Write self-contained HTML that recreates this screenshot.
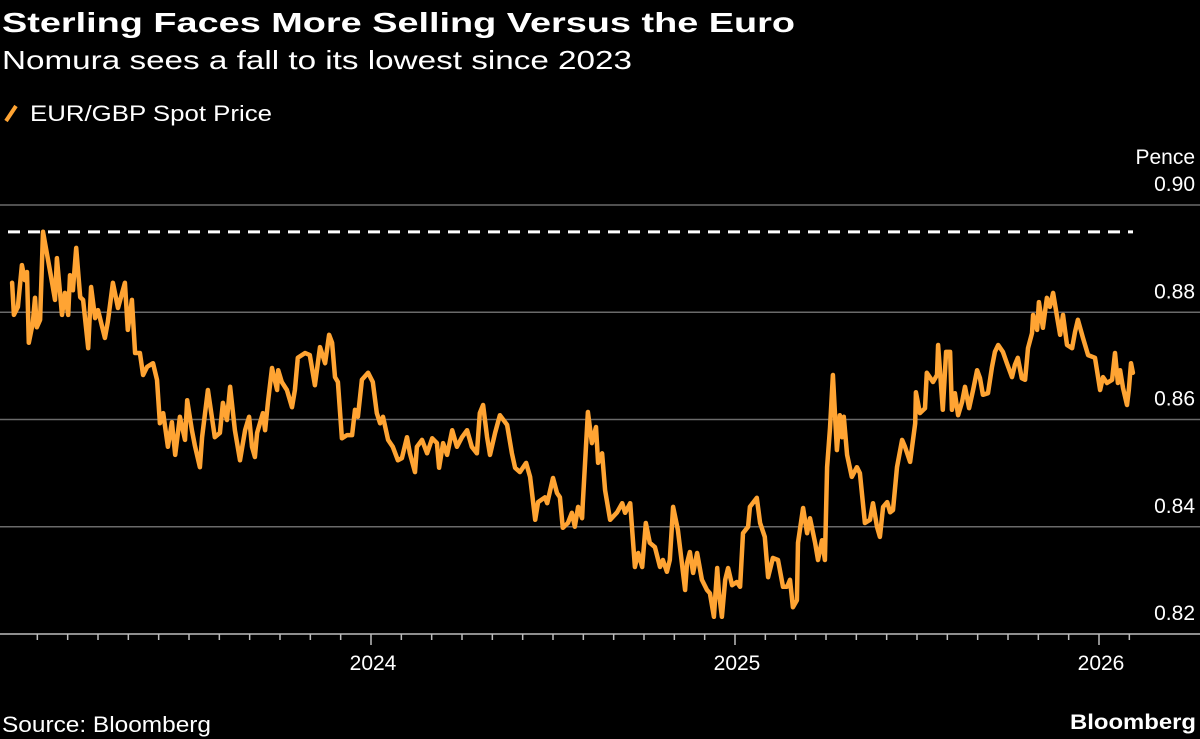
<!DOCTYPE html>
<html><head><meta charset="utf-8"><style>
html,body{margin:0;padding:0;background:#000;width:1200px;height:739px;overflow:hidden}
svg{display:block}
text{font-family:"Liberation Sans",sans-serif}
</style></head><body>
<svg id="chart" width="1200" height="739" viewBox="0 0 1200 739">
<rect width="1200" height="739" fill="#000"/>
<text x="2" y="32" font-size="28" font-weight="bold" fill="#fff" textLength="793" lengthAdjust="spacingAndGlyphs">Sterling Faces More Selling Versus the Euro</text>
<text x="2" y="69" font-size="26" fill="#fff" textLength="630" lengthAdjust="spacingAndGlyphs">Nomura sees a fall to its lowest since 2023</text>
<g>
<line x1="6" y1="121" x2="16" y2="106" stroke="#ffa433" stroke-width="4"/>
<text x="30" y="121" font-size="22" fill="#fff" textLength="242" lengthAdjust="spacingAndGlyphs">EUR/GBP Spot Price</text>
</g>
<text x="1195" y="164" font-size="21" fill="#fff" text-anchor="end">Pence</text>
<g id="grid"></g><g id="xaxis"></g><g id="series"></g>
<text x="2" y="732" font-size="22" fill="#fff" textLength="209" lengthAdjust="spacingAndGlyphs">Source: Bloomberg</text>
<text x="1196" y="729" font-size="21" font-weight="bold" fill="#fff" text-anchor="end" textLength="126" lengthAdjust="spacingAndGlyphs">Bloomberg</text>
</svg>
<script>
const yTicks=[0.82,0.84,0.86,0.88,0.90];
const yTickLabels=["0.82","0.84","0.86","0.88","0.90"];
const xYears=[2024,2025,2026];
const xYearLabels=["2024","2025","2026"];
const refLevel=0.895;
const dates=[2023.014,2023.019,2023.030,2023.041,2023.049,2023.055,2023.060,2023.071,2023.077,2023.082,2023.091,2023.099,2023.113,2023.124,2023.132,2023.137,2023.151,2023.159,2023.168,2023.173,2023.181,2023.190,2023.201,2023.209,2023.223,2023.231,2023.242,2023.250,2023.269,2023.277,2023.291,2023.305,2023.324,2023.332,2023.343,2023.352,2023.365,2023.374,2023.385,2023.401,2023.412,2023.420,2023.429,2023.442,2023.453,2023.462,2023.475,2023.489,2023.495,2023.508,2023.516,2023.530,2023.536,2023.552,2023.571,2023.585,2023.593,2023.604,2023.613,2023.626,2023.640,2023.654,2023.665,2023.673,2023.681,2023.687,2023.703,2023.709,2023.717,2023.728,2023.742,2023.745,2023.755,2023.769,2023.783,2023.791,2023.799,2023.819,2023.832,2023.846,2023.860,2023.874,2023.885,2023.893,2023.901,2023.909,2023.920,2023.934,2023.948,2023.956,2023.964,2023.975,2023.992,2024.005,2024.016,2024.025,2024.033,2024.047,2024.060,2024.074,2024.085,2024.099,2024.107,2024.121,2024.126,2024.140,2024.154,2024.168,2024.181,2024.187,2024.198,2024.209,2024.223,2024.236,2024.250,2024.264,2024.277,2024.291,2024.299,2024.308,2024.319,2024.327,2024.341,2024.354,2024.374,2024.387,2024.396,2024.409,2024.426,2024.437,2024.451,2024.459,2024.478,2024.484,2024.500,2024.511,2024.519,2024.527,2024.541,2024.552,2024.560,2024.569,2024.580,2024.582,2024.596,2024.607,2024.618,2024.624,2024.635,2024.643,2024.657,2024.676,2024.690,2024.698,2024.712,2024.725,2024.734,2024.745,2024.755,2024.766,2024.780,2024.794,2024.802,2024.813,2024.821,2024.830,2024.843,2024.863,2024.868,2024.876,2024.885,2024.896,2024.909,2024.923,2024.931,2024.942,2024.951,2024.956,2024.964,2024.973,2024.981,2024.992,2025.005,2025.014,2025.022,2025.036,2025.041,2025.060,2025.069,2025.082,2025.091,2025.104,2025.118,2025.132,2025.143,2025.151,2025.159,2025.170,2025.173,2025.187,2025.198,2025.206,2025.220,2025.228,2025.239,2025.247,2025.253,2025.261,2025.269,2025.280,2025.288,2025.294,2025.299,2025.308,2025.321,2025.335,2025.343,2025.357,2025.371,2025.379,2025.390,2025.398,2025.407,2025.418,2025.426,2025.434,2025.445,2025.459,2025.467,2025.481,2025.495,2025.497,2025.508,2025.522,2025.527,2025.544,2025.555,2025.558,2025.571,2025.580,2025.591,2025.596,2025.604,2025.613,2025.624,2025.632,2025.643,2025.654,2025.665,2025.673,2025.681,2025.695,2025.706,2025.714,2025.723,2025.736,2025.747,2025.761,2025.769,2025.777,2025.788,2025.797,2025.805,2025.816,2025.819,2025.830,2025.835,2025.846,2025.857,2025.865,2025.874,2025.885,2025.893,2025.901,2025.912,2025.926,2025.934,2025.942,2025.956,2025.970,2025.989,2026.003,2026.011,2026.022,2026.036,2026.044,2026.052,2026.058,2026.066,2026.077,2026.082,2026.088,2026.093];
const prices=[0.8855,0.8795,0.8810,0.8888,0.8860,0.8875,0.8743,0.8780,0.8827,0.8772,0.8786,0.8950,0.8897,0.8855,0.8823,0.8901,0.8795,0.8836,0.8795,0.8869,0.8841,0.8920,0.8828,0.8823,0.8733,0.8847,0.8789,0.8804,0.8752,0.8782,0.8855,0.8808,0.8855,0.8767,0.8823,0.8724,0.8724,0.8683,0.8698,0.8705,0.8674,0.8593,0.8612,0.8549,0.8595,0.8534,0.8605,0.8562,0.8636,0.8580,0.8552,0.8511,0.8567,0.8655,0.8567,0.8575,0.8631,0.8599,0.8661,0.8580,0.8524,0.8580,0.8605,0.8549,0.8530,0.8575,0.8612,0.8580,0.8633,0.8696,0.8655,0.8692,0.8670,0.8655,0.8623,0.8655,0.8715,0.8724,0.8720,0.8664,0.8735,0.8705,0.8758,0.8743,0.8679,0.8670,0.8565,0.8571,0.8571,0.8618,0.8605,0.8674,0.8687,0.8670,0.8612,0.8593,0.8605,0.8562,0.8549,0.8524,0.8528,0.8567,0.8537,0.8502,0.8549,0.8562,0.8537,0.8565,0.8556,0.8510,0.8556,0.8534,0.8580,0.8549,0.8567,0.8580,0.8549,0.8537,0.8612,0.8627,0.8567,0.8534,0.8575,0.8608,0.8590,0.8537,0.8510,0.8502,0.8519,0.8493,0.8413,0.8446,0.8455,0.8444,0.8491,0.8463,0.8455,0.8398,0.8407,0.8426,0.8400,0.8437,0.8416,0.8444,0.8614,0.8556,0.8586,0.8519,0.8537,0.8468,0.8413,0.8427,0.8444,0.8426,0.8444,0.8325,0.8351,0.8325,0.8407,0.8370,0.8362,0.8325,0.8338,0.8316,0.8338,0.8437,0.8394,0.8282,0.8332,0.8353,0.8314,0.8351,0.8301,0.8282,0.8276,0.8232,0.8323,0.8276,0.8232,0.8301,0.8323,0.8291,0.8297,0.8288,0.8388,0.8400,0.8437,0.8454,0.8407,0.8381,0.8306,0.8342,0.8338,0.8288,0.8288,0.8301,0.8250,0.8263,0.8370,0.8435,0.8388,0.8416,0.8370,0.8338,0.8375,0.8338,0.8511,0.8584,0.8683,0.8543,0.8608,0.8567,0.8605,0.8534,0.8493,0.8511,0.8500,0.8407,0.8413,0.8444,0.8400,0.8381,0.8437,0.8446,0.8427,0.8431,0.8511,0.8562,0.8549,0.8521,0.8593,0.8651,0.8612,0.8621,0.8687,0.8670,0.8683,0.8739,0.8618,0.8726,0.8726,0.8618,0.8649,0.8608,0.8633,0.8661,0.8621,0.8655,0.8692,0.8677,0.8646,0.8649,0.8698,0.8726,0.8739,0.8726,0.8705,0.8679,0.8702,0.8715,0.8677,0.8674,0.8733,0.8761,0.8795,0.8767,0.8819,0.8771,0.8827,0.8810,0.8836,0.8791,0.8758,0.8795,0.8739,0.8733,0.8763,0.8786,0.8752,0.8720,0.8715,0.8655,0.8679,0.8668,0.8674,0.8724,0.8668,0.8692,0.8659,0.8627,0.8655,0.8705,0.8687];

const NS="http://www.w3.org/2000/svg";
const xScale=t=>371+(t-2024)*364;
const yScale=v=>634-(v-0.82)*5362.5;
function mk(tag,attrs,parent){const e=document.createElementNS(NS,tag);for(const k in attrs)e.setAttribute(k,attrs[k]);parent.appendChild(e);return e;}
const grid=document.getElementById('grid'),xa=document.getElementById('xaxis'),ser=document.getElementById('series');
yTicks.forEach((v,i)=>{
  const y=yScale(v);
  const ln=mk('line',{x1:0,x2:1200,y1:y,y2:y,stroke:i===0?'#bdbdbd':'#6a6a6a','stroke-width':1.5},grid);
  
  
  const tx=mk('text',{x:1195,y:y-14,'font-size':21,fill:'#fff','text-anchor':'end'},grid);
  tx.textContent=yTickLabels[i];
  
  
});
for(let m=1;m<=37;m++){
  const t=2023+m/12;const x=xScale(t);if(x>1195)break;
  const isYear=(m%12===0);
  const tk=mk('line',{x1:x,x2:x,y1:634,y2:isYear?645:640,stroke:'#bdbdbd','stroke-width':1.5},xa);
  
  
}
xYears.forEach((yr,i)=>{
  const tx=mk('text',{x:xScale(yr)+2,y:670,'font-size':21,fill:'#fff','text-anchor':'middle'},xa);
  tx.textContent=xYearLabels[i];
  
  
});
const ref=mk('line',{x1:8,x2:1133,y1:yScale(refLevel),y2:yScale(refLevel),stroke:'#fff','stroke-width':3,'stroke-dasharray':'12 8'},ser);


const d=dates.map((t,i)=>(i?'L':'M')+xScale(t).toFixed(1)+' '+yScale(prices[i]).toFixed(1)).join(' ');
const p=mk('path',{d:d,fill:'none',stroke:'#ffa433','stroke-width':4.5,'stroke-linejoin':'round','stroke-linecap':'round'},ser);


</script>
</body></html>
